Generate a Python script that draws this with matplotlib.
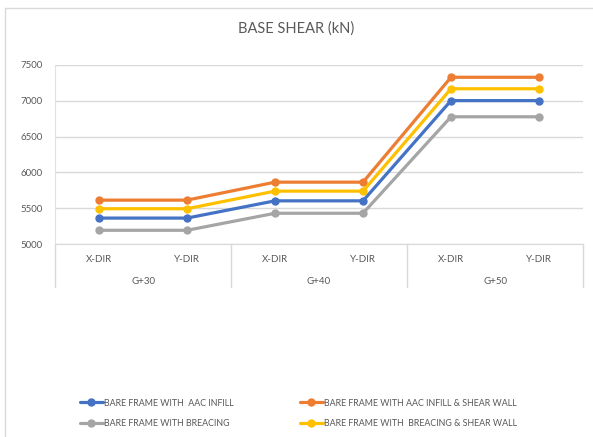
import matplotlib
matplotlib.use("Agg")
import matplotlib.pyplot as plt
from matplotlib import patches, transforms

plt.rcParams['font.family'] = ['Lato', 'DejaVu Sans']

# data
directions = ["X-DIR", "Y-DIR", "X-DIR", "Y-DIR", "X-DIR", "Y-DIR"]
groups = ["G+30", "G+40", "G+50"]
aac_infill = [5365, 5365, 5605, 5605, 7000, 7000]
aac_shear_wall = [5615, 5615, 5865, 5865, 7325, 7325]
bracing = [5195, 5195, 5432, 5432, 6775, 6775]
bracing_shear_wall = [5495, 5495, 5740, 5740, 7165, 7165]

names = ["BARE FRAME WITH  AAC INFILL",
         "BARE FRAME WITH AAC INFILL & SHEAR WALL",
         "BARE FRAME WITH BREACING",
         "BARE FRAME WITH  BREACING & SHEAR WALL"]
colors = ["#4472C4", "#ED7D31", "#A5A5A5", "#FFC000"]
txt = "#595959"
grid_c = "#D9D9D9"

fig = plt.figure(figsize=(5.93, 4.37), dpi=100)
W, H = 593, 437
ax = fig.add_axes([55 / W, 1 - 244.3 / H, 528 / W, 179.6 / H])

# outer chart border
fig.patches.append(patches.Rectangle((5 / W, -0.05), 1.1, 1 - 8 / H + 0.05,
                                     transform=fig.transFigure, fill=False,
                                     edgecolor=grid_c, linewidth=1))

x = [i + 0.5 for i in range(len(directions))]
series = [aac_infill, aac_shear_wall, bracing, bracing_shear_wall]
lines = []
for vals, c, n in zip(series, colors, names):
    ln, = ax.plot(x, vals, color=c, linewidth=2.3, marker='o', markersize=5,
                  label=n, solid_capstyle='round', zorder=3)
    lines.append(ln)

ax.set_xlim(0, 6)
ax.set_ylim(5000, 7500)
ax.set_yticks(range(5000, 7501, 500))
ax.yaxis.grid(True, color=grid_c, linewidth=1)
ax.set_axisbelow(True)
for s in ["top", "right"]:
    ax.spines[s].set_visible(False)
ax.spines["left"].set_color("#DCE3F0")
ax.spines["bottom"].set_color(grid_c)
ax.tick_params(axis='y', length=0, pad=9, labelsize=7, labelcolor=txt)
ax.set_xticks(x)
ax.set_xticklabels(directions)
ax.tick_params(axis='x', length=0, pad=8, labelsize=7, labelcolor=txt)

# second level of the category axis
tr = transforms.blended_transform_factory(ax.transData, ax.transAxes)
for b in [0, 2, 4, 6]:
    ax.plot([b, b], [0, -0.24], transform=tr, color=grid_c, linewidth=1,
            clip_on=False)
for i, g in enumerate(groups):
    ax.text(2 * i + 1, -0.205, g, transform=tr, ha='center', va='center',
            fontsize=7, color=txt)

fig.text(0.5, 1 - 29 / H, "BASE SHEAR (kN)", ha='center', va='center',
         fontsize=10.5, color=txt)

# legend in two columns
leg_kw = dict(frameon=False, fontsize=6.4, labelcolor=txt, handlelength=2.6,
              handletextpad=0.1, labelspacing=1.3, borderaxespad=0)
leg1 = fig.legend([lines[0], lines[2]], [names[0], names[2]],
                  loc='upper left', bbox_to_anchor=(76 / W, 1 - 395 / H), **leg_kw)
leg2 = fig.legend([lines[1], lines[3]], [names[1], names[3]],
                  loc='upper left', bbox_to_anchor=(296 / W, 1 - 395 / H), **leg_kw)

fig.savefig("out.png", dpi=100)
